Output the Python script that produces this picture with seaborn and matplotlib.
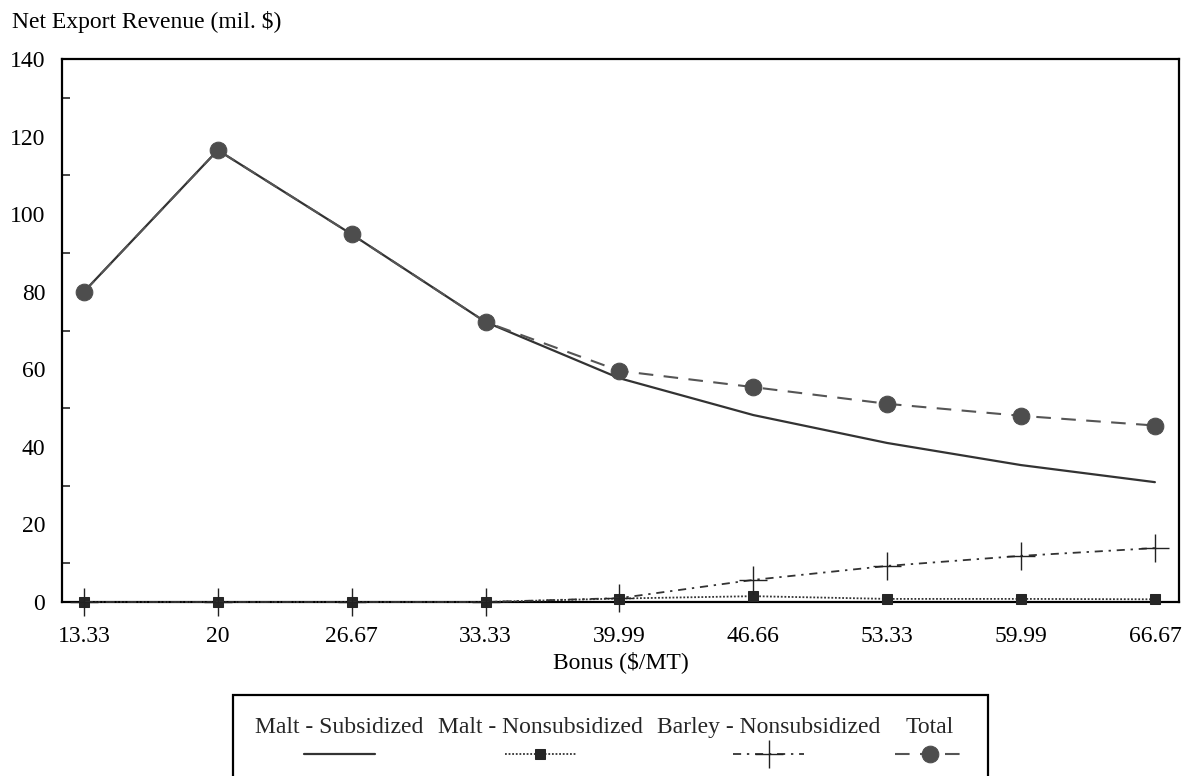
import matplotlib
matplotlib.use("Agg")
import matplotlib.pyplot as plt
from matplotlib.offsetbox import VPacker
from matplotlib.ticker import MultipleLocator
import seaborn as sns
import pandas as pd

# Bonus levels ($/MT) and net export revenue (mil. $) by component
bonus = ["13.33", "20", "26.67", "33.33", "39.99", "46.66", "53.33", "59.99", "66.67"]
malt_subsidized = [80.0, 116.5, 94.8, 72.2, 57.7, 48.2, 41.0, 35.3, 30.9]
malt_nonsubsidized = [0.0, 0.0, 0.0, 0.0, 0.9, 1.5, 0.8, 0.8, 0.7]
barley_nonsubsidized = [0.0, 0.0, 0.0, 0.0, 1.0, 5.7, 9.3, 11.9, 13.9]
total = [80.0, 116.5, 94.8, 72.2, 59.6, 55.4, 51.1, 48.0, 45.5]

series_names = ["Malt - Subsidized", "Malt - Nonsubsidized",
                "Barley - Nonsubsidized", "Total"]

df = pd.DataFrame({
    "pos": list(range(len(bonus))),
    "Malt - Subsidized": malt_subsidized,
    "Malt - Nonsubsidized": malt_nonsubsidized,
    "Barley - Nonsubsidized": barley_nonsubsidized,
    "Total": total,
})

FS = 17

sns.set_theme(style="white")
plt.rcParams["font.family"] = ["Liberation Serif", "DejaVu Serif"]
plt.rcParams["font.size"] = FS
plt.rcParams["mathtext.default"] = "regular"

fig = plt.figure(figsize=(11.82, 7.76), dpi=100)
ax = fig.add_axes([62 / 1182, 1 - 602 / 776, (1179 - 62) / 1182, (602 - 59) / 776])

styles = {
    "Malt - Subsidized": dict(color="#333333", linewidth=1.6, linestyle="-",
                              marker=None, zorder=3),
    "Malt - Nonsubsidized": dict(color="#333333", linewidth=1.3,
                                 linestyle=(0, (1, 1)), marker="s",
                                 markersize=7, markerfacecolor="#262626",
                                 markeredgecolor="#262626", zorder=4),
    "Barley - Nonsubsidized": dict(color="#333333", linewidth=1.3,
                                   linestyle=(0, (4.5, 3.2, 1.3, 3.2)),
                                   marker="+", markersize=20,
                                   markeredgewidth=1.0,
                                   markeredgecolor="#222222", zorder=5),
    "Total": dict(color="#555555", linewidth=1.5, linestyle=(0, (7, 5)),
                  marker="o", markersize=12, markerfacecolor="#4d4d4d",
                  markeredgecolor="#4d4d4d", zorder=6),
}

for name in series_names:
    sns.lineplot(data=df, x="pos", y=name, ax=ax, sort=False,
                 label=name, clip_on=False, **styles[name])

ax.set_xlim(-0.164, 8.18)
ax.set_ylim(0, 140)
ax.set_xticks(df["pos"])
ax.set_xticklabels(bonus)
ax.yaxis.set_major_locator(MultipleLocator(20))
ax.yaxis.set_minor_locator(MultipleLocator(10))

ax.tick_params(axis="x", which="both", length=0, pad=17, labelsize=FS,
               colors="black")
ax.tick_params(axis="y", which="major", direction="in", length=11,
               width=1.2, pad=12, labelsize=FS, colors="black")
ax.tick_params(axis="y", which="minor", direction="in", length=6,
               width=1.2, left=True)
for spine in ax.spines.values():
    spine.set_visible(True)
    spine.set_color("black")
    spine.set_linewidth(1.6)

ax.set_xlabel("Bonus ($/MT)", fontsize=FS, labelpad=3, color="black")
ax.set_ylabel("")
fig.text(12 / 1182, 1 - 22 / 776, "Net Export Revenue (mil. $)",
         ha="left", va="center", fontsize=FS, color="black")

ax.get_legend().remove()
handles, labels = ax.get_legend_handles_labels()
leg = fig.legend(handles, labels, ncol=4, loc="upper left",
                 bbox_to_anchor=(233 / 1182, 1 - 695 / 776),
                 bbox_transform=fig.transFigure, borderaxespad=0,
                 frameon=True, fancybox=False, shadow=False, framealpha=1,
                 edgecolor="black", borderpad=0.95, columnspacing=0.6,
                 handlelength=3.0, handletextpad=0.4, numpoints=1,
                 fontsize=FS)
leg.get_frame().set_linewidth(1.6)

# Put each legend label above its line sample
for column in leg._legend_handle_box.get_children():
    for item in column.get_children():
        handle_box, text_box = item._children
        item.__class__ = VPacker
        item._children = [text_box, handle_box]
        item.align = "center"
        item.sep = 5

fig.savefig("out.png", dpi=100)
